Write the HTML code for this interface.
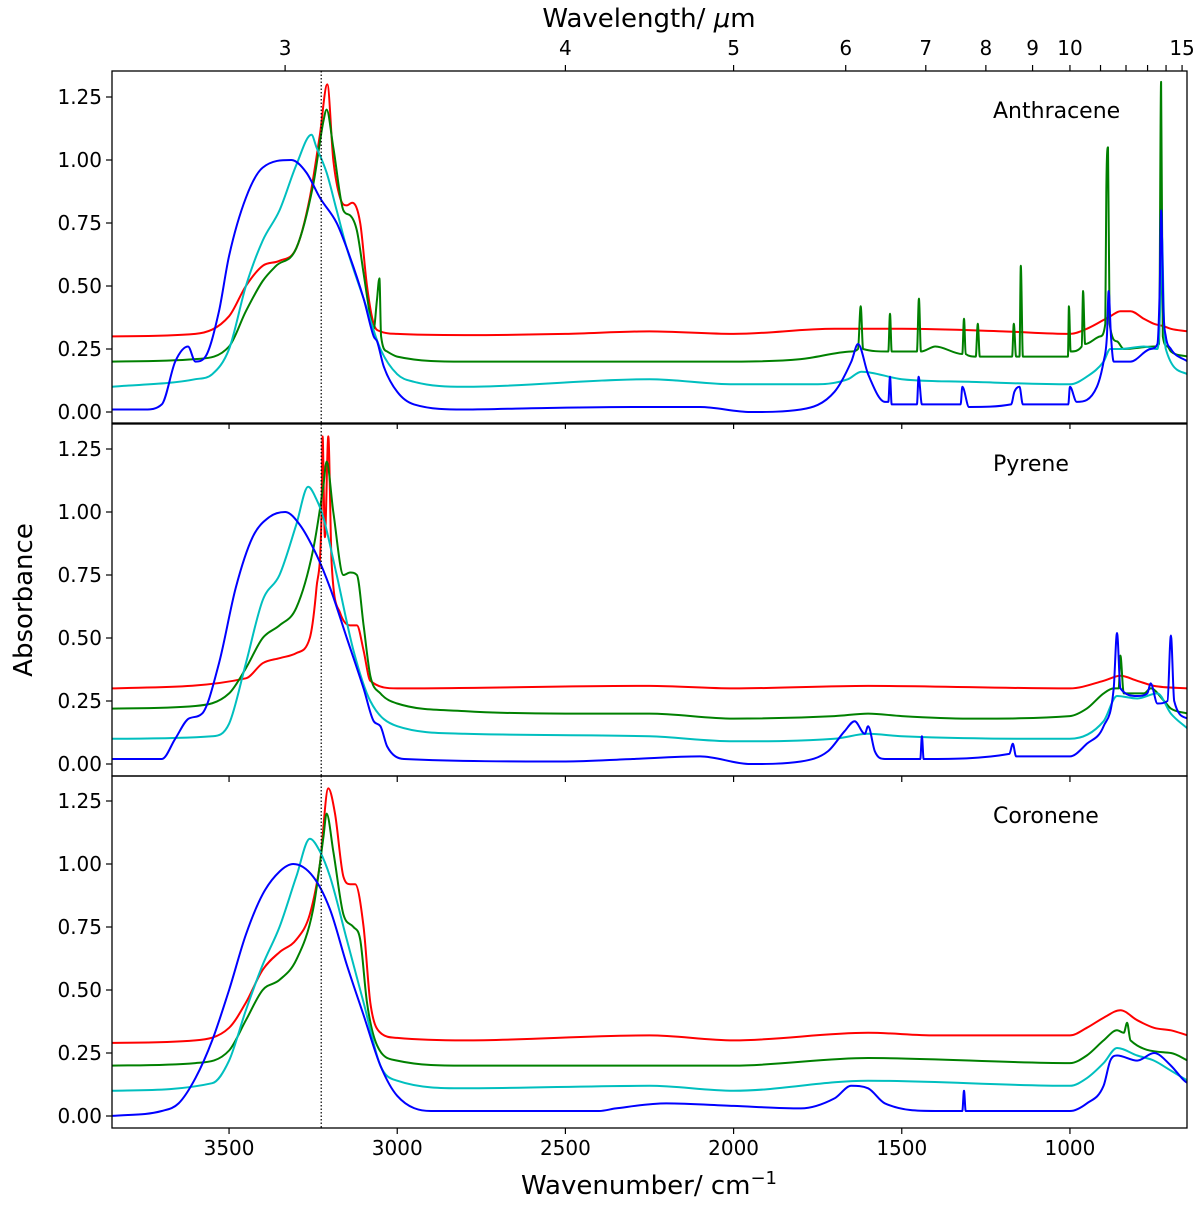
<!DOCTYPE html>
<html><head><meta charset="utf-8"><style>
body{margin:0;background:#fff}
svg{display:block;font-family:"DejaVu Sans","Liberation Sans",sans-serif}
</style></head><body>
<svg id="chart" width="1200" height="1206" viewBox="0 0 1200 1206"></svg>
<script>
// ---- data ----
const xTicks=[3500,3000,2500,2000,1500,1000];
const yTicks=[0,0.25,0.5,0.75,1.0,1.25];
const yTickLabels=["0.00","0.25","0.50","0.75","1.00","1.25"];
const topTicks=[3,4,5,6,7,8,9,10,11,12,13,14,15];
const topLabels=["3","4","5","6","7","8","9","10","","","","","15"];
const panelNames=["Anthracene","Pyrene","Coronene"];
const dottedWn=3226;

const antRedWn=[3850,3600,3500,3450,3400,3350,3300,3260,3230,3208,3190,3170,3150,3134,3110,3090,3070,3050,3000,2800,2500,2250,2000,1700,1500,1200,1000,950,880,850,820,780,750,720,700,650];
const antRedA=[0.30,0.31,0.38,0.5,0.58,0.6,0.65,0.85,1.1,1.3,1.0,0.85,0.82,0.83,0.75,0.5,0.35,0.32,0.31,0.305,0.31,0.32,0.31,0.33,0.33,0.32,0.31,0.33,0.38,0.40,0.40,0.37,0.35,0.34,0.33,0.32];
const antGreenWn=[3850,3600,3500,3450,3400,3360,3300,3250,3220,3210,3190,3160,3140,3120,3100,3080,3070,3060,3053,3048,3030,3000,2800,2000,1800,1650,1630,1622,1615,1540,1535,1530,1455,1449,1443,1400,1320,1315,1310,1280,1274,1268,1172,1167,1160,1150,1146,1140,1100,1006,1003,998,965,961,955,910,895,892,887,882,860,840,750,735,729,724,710,700,650];
const antGreenA=[0.2,0.21,0.26,0.4,0.52,0.58,0.65,0.9,1.15,1.2,1.05,0.8,0.78,0.72,0.55,0.38,0.33,0.45,0.53,0.3,0.24,0.22,0.2,0.2,0.21,0.24,0.25,0.42,0.25,0.24,0.39,0.24,0.24,0.45,0.24,0.26,0.23,0.37,0.23,0.22,0.35,0.22,0.22,0.35,0.22,0.22,0.58,0.22,0.22,0.22,0.42,0.24,0.26,0.48,0.27,0.3,0.35,0.87,1.05,0.35,0.28,0.25,0.26,0.27,1.31,0.3,0.26,0.24,0.22];
const antCyanWn=[3850,3600,3550,3500,3450,3400,3350,3300,3255,3240,3210,3180,3150,3100,3050,3000,2950,2800,2250,2000,1750,1660,1620,1500,1300,1000,950,900,880,850,780,740,732,727,720,715,650];
const antCyanA=[0.1,0.13,0.15,0.25,0.5,0.68,0.8,0.98,1.1,1.05,0.95,0.8,0.65,0.45,0.25,0.15,0.12,0.1,0.13,0.11,0.11,0.13,0.16,0.13,0.12,0.11,0.14,0.2,0.25,0.25,0.26,0.25,0.4,0.7,0.35,0.25,0.15];
const antBlueWn=[3850,3750,3700,3660,3622,3600,3570,3530,3500,3450,3400,3315,3270,3230,3180,3150,3100,3070,3060,3040,3000,2950,2800,2600,2300,2100,1950,1800,1700,1650,1630,1600,1550,1540,1535,1530,1455,1450,1440,1325,1320,1300,1175,1165,1150,1140,1100,1005,1000,980,920,900,890,885,878,870,820,760,740,733,729,722,715,700,650];
const antBlueA=[0.01,0.01,0.03,0.2,0.26,0.2,0.22,0.4,0.62,0.85,0.97,1.0,0.95,0.85,0.75,0.65,0.45,0.3,0.28,0.18,0.08,0.03,0.01,0.015,0.02,0.02,0.0,0.01,0.08,0.2,0.27,0.15,0.04,0.04,0.14,0.03,0.03,0.14,0.03,0.03,0.1,0.02,0.03,0.08,0.1,0.03,0.03,0.03,0.1,0.04,0.1,0.2,0.3,0.48,0.3,0.2,0.2,0.25,0.27,0.5,0.8,0.4,0.3,0.25,0.2];

const pyrRedWn=[3850,3450,3400,3350,3300,3260,3240,3225,3222,3215,3205,3195,3170,3140,3120,3100,3080,3000,2250,2000,1600,1000,900,850,800,750,650];
const pyrRedA=[0.3,0.34,0.4,0.42,0.44,0.5,0.7,1.0,1.3,0.9,1.3,0.8,0.6,0.55,0.55,0.45,0.33,0.3,0.31,0.3,0.31,0.3,0.33,0.35,0.33,0.31,0.3];
const pyrGreenWn=[3850,3600,3500,3450,3400,3350,3300,3250,3220,3210,3190,3160,3140,3120,3100,3080,3050,3000,2800,2500,2250,2000,1700,1600,1500,1300,1000,950,900,870,855,850,840,780,760,720,700,650];
const pyrGreenA=[0.22,0.23,0.28,0.38,0.5,0.55,0.62,0.85,1.1,1.2,1.0,0.75,0.76,0.75,0.55,0.35,0.28,0.24,0.21,0.2,0.2,0.18,0.19,0.2,0.19,0.18,0.19,0.22,0.28,0.3,0.3,0.43,0.28,0.28,0.3,0.25,0.22,0.2];
const pyrCyanWn=[3850,3550,3500,3450,3400,3350,3300,3265,3240,3220,3180,3130,3080,3000,2800,2250,2000,1700,1600,1500,1000,900,860,800,740,700,650];
const pyrCyanA=[0.1,0.11,0.16,0.4,0.65,0.75,0.95,1.1,1.05,0.98,0.75,0.45,0.25,0.15,0.12,0.11,0.09,0.1,0.12,0.11,0.1,0.17,0.27,0.26,0.28,0.2,0.14];
const pyrBlueWn=[3850,3700,3660,3620,3580,3530,3480,3430,3380,3333,3290,3240,3200,3150,3100,3070,3050,3030,2980,2500,2300,2100,1950,1800,1720,1670,1640,1610,1600,1580,1550,1445,1440,1435,1180,1170,1160,1000,950,900,870,860,850,800,770,760,740,710,700,690,650];
const pyrBlueA=[0.02,0.02,0.1,0.18,0.2,0.4,0.7,0.9,0.98,1.0,0.95,0.83,0.7,0.5,0.3,0.17,0.15,0.07,0.02,0.01,0.02,0.03,0.0,0.01,0.05,0.13,0.17,0.12,0.15,0.05,0.02,0.02,0.11,0.02,0.04,0.08,0.03,0.03,0.08,0.15,0.3,0.52,0.3,0.27,0.28,0.32,0.24,0.25,0.51,0.25,0.18];

const corRedWn=[3850,3600,3500,3450,3400,3350,3300,3260,3230,3205,3185,3160,3140,3125,3100,3080,3050,3000,2800,2250,2000,1600,1400,1000,950,900,850,800,750,700,650];
const corRedA=[0.29,0.3,0.35,0.45,0.58,0.65,0.7,0.8,1.0,1.3,1.2,0.95,0.92,0.92,0.75,0.45,0.33,0.31,0.3,0.32,0.3,0.33,0.32,0.32,0.35,0.39,0.42,0.38,0.35,0.34,0.32];
const corGreenWn=[3850,3600,3500,3450,3400,3350,3300,3250,3220,3210,3190,3160,3130,3110,3090,3060,3000,2800,2000,1600,1000,950,900,860,840,830,820,700,650];
const corGreenA=[0.2,0.21,0.26,0.38,0.5,0.54,0.62,0.82,1.1,1.2,1.05,0.8,0.75,0.7,0.45,0.28,0.22,0.2,0.2,0.23,0.21,0.24,0.3,0.34,0.33,0.37,0.3,0.25,0.22];
const corCyanWn=[3850,3550,3500,3450,3400,3350,3300,3260,3230,3200,3150,3100,3050,3000,2800,2250,2000,1600,1000,950,900,860,800,750,700,650];
const corCyanA=[0.1,0.13,0.22,0.42,0.6,0.75,0.95,1.1,1.05,0.95,0.7,0.45,0.2,0.14,0.11,0.12,0.1,0.14,0.12,0.15,0.21,0.27,0.24,0.22,0.18,0.14];
const corBlueWn=[3850,3700,3650,3600,3550,3500,3450,3400,3350,3309,3250,3200,3150,3100,3050,3000,2900,2400,2350,2200,2000,1800,1700,1650,1600,1550,1400,1320,1315,1310,1000,950,900,880,860,800,750,700,660,650];
const corBlueA=[0.0,0.02,0.05,0.15,0.3,0.5,0.72,0.88,0.97,1.0,0.95,0.82,0.6,0.4,0.2,0.08,0.02,0.02,0.03,0.05,0.04,0.03,0.07,0.12,0.11,0.05,0.02,0.02,0.1,0.02,0.02,0.05,0.12,0.22,0.24,0.22,0.25,0.2,0.14,0.13];

const panelSeries=[
 [[antRedWn,antRedA,"#ff0000"],[antGreenWn,antGreenA,"#008000"],[antCyanWn,antCyanA,"#00bfbf"],[antBlueWn,antBlueA,"#0000ff"]],
 [[pyrRedWn,pyrRedA,"#ff0000"],[pyrGreenWn,pyrGreenA,"#008000"],[pyrCyanWn,pyrCyanA,"#00bfbf"],[pyrBlueWn,pyrBlueA,"#0000ff"]],
 [[corRedWn,corRedA,"#ff0000"],[corGreenWn,corGreenA,"#008000"],[corCyanWn,corCyanA,"#00bfbf"],[corBlueWn,corBlueA,"#0000ff"]]
];
const seriesNames=["red","green","cyan","blue"];

// ---- layout ----
const L=112,R=1187,WN0=3848,WN1=652;
const panelTop=[71,424,776],panelH=352;
const zeroY=[412,764,1116],pxPerUnit=252;
const NS="http://www.w3.org/2000/svg";
const svg=document.getElementById("chart");
function xs(w){return L+(WN0-w)/(WN0-WN1)*(R-L);}
function ys(p,a){return zeroY[p]-a*pxPerUnit;}
function el(tag,attrs,parent){const e=document.createElementNS(NS,tag);for(const k in attrs)e.setAttribute(k,attrs[k]);(parent||svg).appendChild(e);return e;}

// monotone cubic path (Fritsch–Carlson)
function monoPath(X,Y){
  const n=X.length,d=[],m=[];
  for(let i=0;i<n-1;i++)d.push((Y[i+1]-Y[i])/(X[i+1]-X[i]));
  m[0]=d[0];m[n-1]=d[n-2];
  for(let i=1;i<n-1;i++){m[i]=(d[i-1]*d[i]<=0)?0:(d[i-1]+d[i])/2;}
  for(let i=0;i<n-1;i++){
    if(d[i]===0){m[i]=0;m[i+1]=0;continue;}
    const a=m[i]/d[i],b=m[i+1]/d[i],s=a*a+b*b;
    if(s>9){const t=3/Math.sqrt(s);m[i]=t*a*d[i];m[i+1]=t*b*d[i];}
  }
  let s="M"+X[0].toFixed(1)+","+Y[0].toFixed(1);
  for(let i=0;i<n-1;i++){
    const h=(X[i+1]-X[i])/3;
    s+="C"+(X[i]+h).toFixed(1)+","+(Y[i]+m[i]*h).toFixed(1)+" "+(X[i+1]-h).toFixed(1)+","+(Y[i+1]-m[i+1]*h).toFixed(1)+" "+X[i+1].toFixed(1)+","+Y[i+1].toFixed(1);
  }
  return s;
}

for(let p=0;p<3;p++){
  const g=el("g",{});
  
  
  const clipId="clip"+p;
  const cp=el("clipPath",{id:clipId},g);el("rect",{x:L,y:panelTop[p],width:R-L,height:panelH},cp);
  panelSeries[p].forEach((s,i)=>{
    const X=s[0].map(w=>xs(w)),Y=s[1].map(a=>ys(p,a));
    const pl=el("path",{d:monoPath(X,Y),fill:"none",stroke:s[2],"stroke-width":2,"stroke-linejoin":"round","clip-path":"url(#"+clipId+")"},g);
    
    
  });
  const dl=el("line",{x1:xs(dottedWn),x2:xs(dottedWn),y1:panelTop[p],y2:panelTop[p]+panelH,stroke:"#000","stroke-width":1.2,"stroke-dasharray":"1.5,2"},g);
  
  
  const fr=el("rect",{x:L,y:panelTop[p],width:R-L,height:panelH,fill:"none",stroke:"#000","stroke-width":1.3},g);
  
  
  yTicks.forEach((t,i)=>{
    const y=ys(p,t);
    el("line",{x1:L-6,x2:L,y1:y,y2:y,stroke:"#000","stroke-width":1.2},g);
    const tx=el("text",{x:L-10,y:y+7,"text-anchor":"end","font-size":20},g);tx.textContent=yTickLabels[i];
    
    
  });
  xTicks.forEach(t=>{el("line",{x1:xs(t),x2:xs(t),y1:panelTop[p]+panelH,y2:panelTop[p]+panelH+6,stroke:"#000","stroke-width":1.2},g);});
  const nm=el("text",{x:993,y:panelTop[p]+47,"font-size":22},g);nm.textContent=panelNames[p];
  
  
}
xTicks.forEach(t=>{
  const tx=el("text",{x:xs(t),y:1155,"text-anchor":"middle","font-size":20});tx.textContent=t;
  
  
});
topTicks.forEach((m,i)=>{
  const x=xs(10000/m);
  el("line",{x1:x,x2:x,y1:65,y2:71,stroke:"#000","stroke-width":1.2});
  if(topLabels[i]){const tx=el("text",{x:x,y:55,"text-anchor":"middle","font-size":20});tx.textContent=topLabels[i];
    
    }
});
const xt=el("text",{x:649,y:1194,"text-anchor":"middle","font-size":26});
xt.innerHTML='Wavenumber/ cm<tspan dy="-10" font-size="18">−1</tspan>';


const tt=el("text",{x:649,y:27,"text-anchor":"middle","font-size":26});
tt.innerHTML='Wavelength/ <tspan font-style="italic">μ</tspan>m';


const yt=el("text",{x:32,y:600,"text-anchor":"middle","font-size":26,transform:"rotate(-90 32 600)"});
yt.textContent="Absorbance";


</script>
</body></html>
